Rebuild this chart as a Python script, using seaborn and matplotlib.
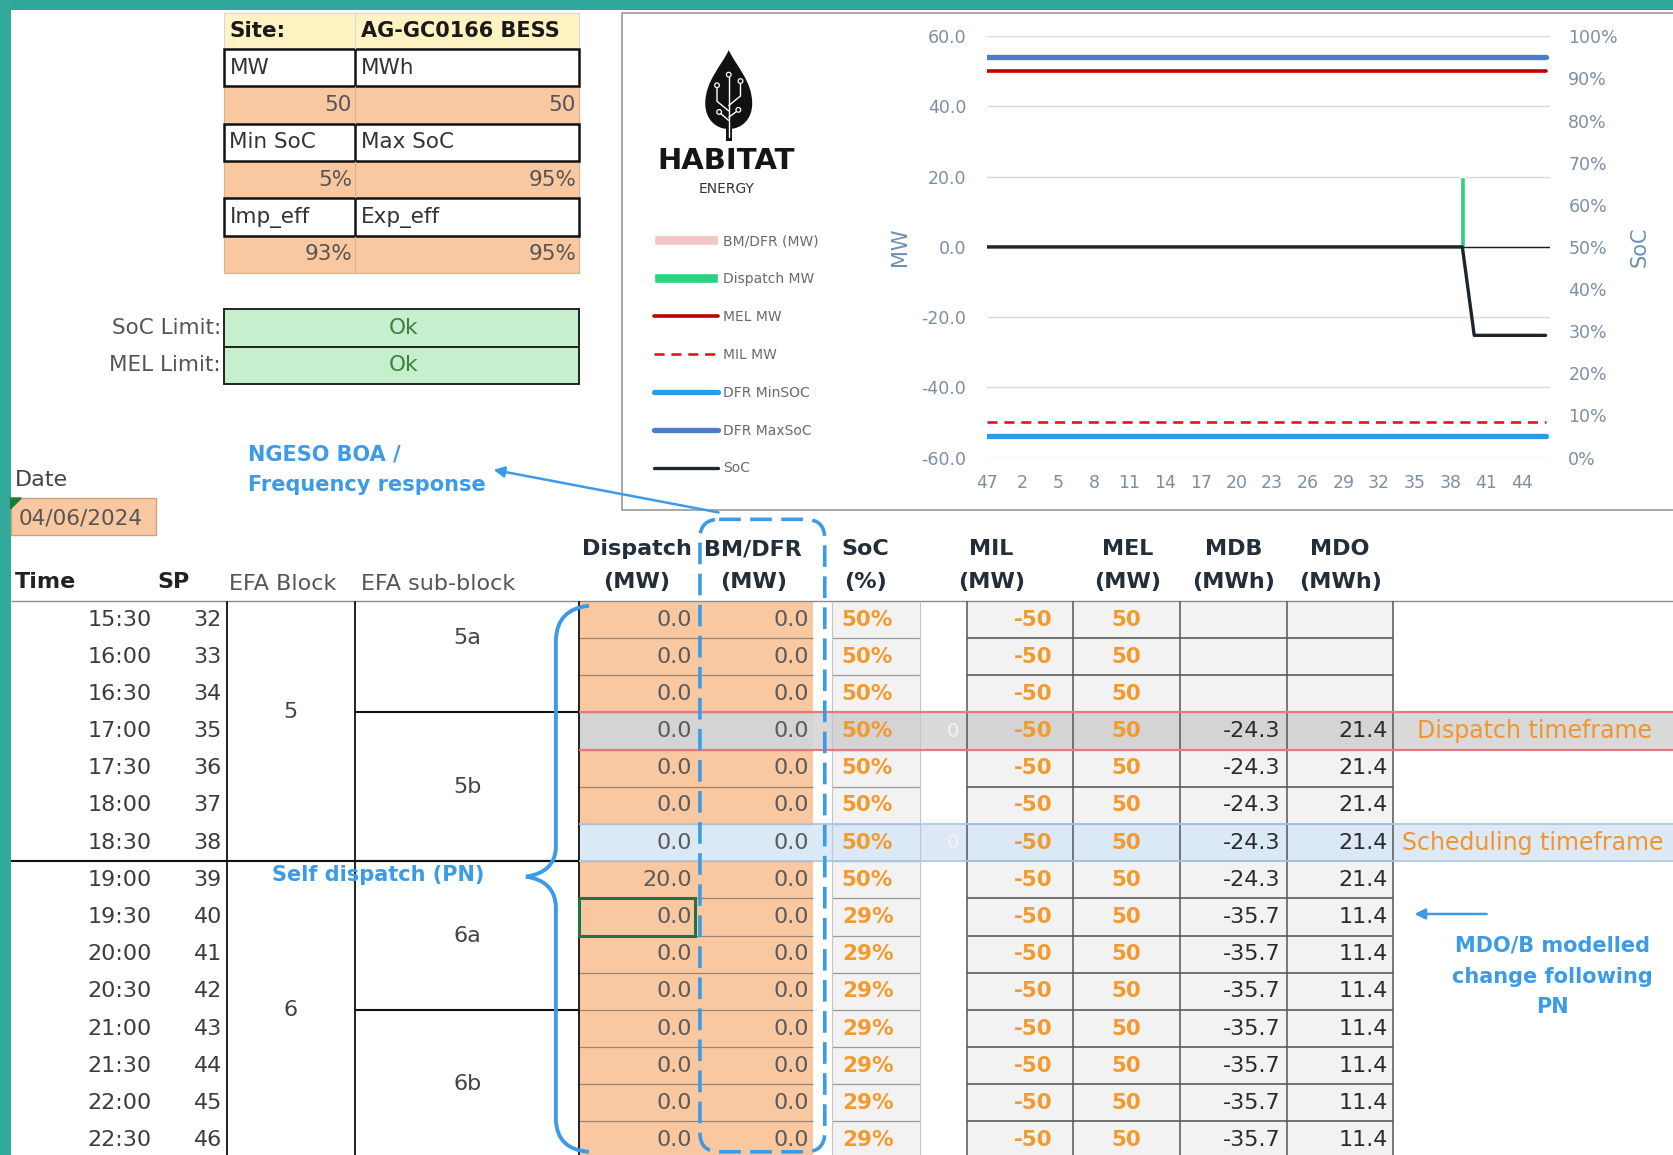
import numpy as np
import pandas as pd
import seaborn as sns
import matplotlib.pyplot as plt
from matplotlib import font_manager as fm
from matplotlib.patches import Rectangle, FancyBboxPatch, PathPatch, Polygon, Circle
from matplotlib.path import Path

# ---- chart series, x axis = settlement periods starting at SP47 of the day before
sp_axis = [47, 48, 1, 2, 3, 4, 5, 6, 7, 8, 9, 10, 11, 12, 13, 14, 15, 16, 17, 18,
           19, 20, 21, 22, 23, 24, 25, 26, 27, 28, 29, 30, 31, 32, 33, 34, 35, 36,
           37, 38, 39, 40, 41, 42, 43, 44, 45, 46]
bm_dfr_mw = [0] * 48
dispatch_mw = [0] * 40 + [20] + [0] * 7
mel_mw = [50] * 48
mil_mw = [-50] * 48
dfr_min_soc = [5] * 48
dfr_max_soc = [95] * 48
soc_pct = [50] * 41 + [29] * 7

# ---- site parameters
site_name = "AG-GC0166 BESS"
site_mw, site_mwh = 50, 50
min_soc, max_soc = 5, 95
imp_eff, exp_eff = 93, 95
report_date = "04/06/2024"

# ---- dispatch table
times = ["15:30", "16:00", "16:30", "17:00", "17:30", "18:00", "18:30", "19:00",
         "19:30", "20:00", "20:30", "21:00", "21:30", "22:00", "22:30"]
sp_rows = [32, 33, 34, 35, 36, 37, 38, 39, 40, 41, 42, 43, 44, 45, 46]
disp_rows = [0.0, 0.0, 0.0, 0.0, 0.0, 0.0, 0.0, 20.0, 0.0, 0.0, 0.0, 0.0, 0.0, 0.0, 0.0]
bm_rows = [0.0] * 15
soc_rows = [50, 50, 50, 50, 50, 50, 50, 50, 29, 29, 29, 29, 29, 29, 29]
mil_rows = [-50] * 15
mel_rows = [50] * 15
mdb_rows = [None, None, None, -24.3, -24.3, -24.3, -24.3, -24.3,
            -35.7, -35.7, -35.7, -35.7, -35.7, -35.7, -35.7]
mdo_rows = [None, None, None, 21.4, 21.4, 21.4, 21.4, 21.4,
            11.4, 11.4, 11.4, 11.4, 11.4, 11.4, 11.4]
efa_blocks = [("5", -1, 7), ("6", 7, 15)]
efa_sub = [("5a", -1, 3), ("5b", 3, 7), ("6a", 7, 11), ("6b", 11, 15)]
dispatch_row, schedule_row, selected_row = 3, 6, 8

sns.set_theme(style="white")
plt.rcParams["font.family"] = ["DejaVu Sans"]
names = {f.name for f in fm.fontManager.ttflist}
logo_font = "Liberation Sans Narrow" if "Liberation Sans Narrow" in names else "DejaVu Sans"

W, H = 1568, 1083  # drawing grid (figure is 1673x1155 px)
fig = plt.figure(figsize=(16.73, 11.55), dpi=100)
ax0 = fig.add_axes([0, 0, 1, 1])
ax0.set_xlim(0, W)
ax0.set_ylim(H, 0)
ax0.axis("off")

ORANGE = "#f9c8a0"
LGRAY = "#f2f2f2"
BLUE = "#3c9be8"
OTXT = "#f29a2e"


def rect(x0, y0, x1, y1, fc, ec="none", lw=0, z=1):
    ax0.add_patch(Rectangle((x0, y0), x1 - x0, y1 - y0, facecolor=fc,
                            edgecolor=ec, linewidth=lw, zorder=z))


def hline(y, x0, x1, color, lw=1, z=3):
    ax0.plot([x0, x1], [y, y], color=color, lw=lw, zorder=z, solid_capstyle="butt")


def vline(x, y0, y1, color, lw=1, z=3):
    ax0.plot([x, x], [y0, y1], color=color, lw=lw, zorder=z, solid_capstyle="butt")


def txt(x, y, s, ha="left", size=16, color="#333", weight="normal", **kw):
    ax0.text(x, y, s, ha=ha, va="center", fontsize=size, color=color,
             fontweight=weight, zorder=6, **kw)


# teal frame
rect(0, 0, W, 9, "#2fa89b", z=0)
rect(0, 0, 10, H, "#33a99c", z=0)

# ---- site info table
c0, c1, c2 = 210, 333, 543
rect(c0, 12, c2, 46, "#fff3c4", ec="#d8d8d8", lw=0.8)
vline(c1, 12, 46, "#d8d8d8", 0.8)
txt(215, 29, "Site:", size=15.5, weight="bold", color="#1a1a1a")
txt(338, 29, site_name, size=15, weight="bold", color="#1a1a1a")
pairs = [(("MW", "MWh"), (f"{site_mw}", f"{site_mwh}")),
         (("Min SoC", "Max SoC"), (f"{min_soc}%", f"{max_soc}%")),
         (("Imp_eff", "Exp_eff"), (f"{imp_eff}%", f"{exp_eff}%"))]
y = 46
for (la, lb), (va, vb) in pairs:
    rect(c0, y, c2, y + 35, "white", ec="#111", lw=1.8, z=2)
    vline(c1, y, y + 35, "#111", 1.8)
    txt(215, y + 17.5, la, size=15.5, color="#333")
    txt(338, y + 17.5, lb, size=15.5, color="#333")
    rect(c0, y + 35, c2, y + 70, ORANGE, ec="#d9b090", lw=0.8)
    vline(c1, y + 35, y + 70, "#d9b090", 0.8)
    txt(330, y + 52.5, va, ha="right", size=15.5, color="#555")
    txt(540, y + 52.5, vb, ha="right", size=15.5, color="#555")
    y += 70

# limits
for yy, lab in [(290, "SoC Limit:"), (325, "MEL Limit:")]:
    rect(c0, yy, c2, yy + 35, "#c6efce", ec="#222", lw=1.4, z=2)
    txt(207, yy + 17.5, lab, ha="right", size=15.5, color="#555")
    txt(378, yy + 17.5, "Ok", ha="center", size=15.5, color="#3f7f3f")

# date
txt(14, 450, "Date", size=16, color="#444")
rect(10, 467, 146, 502, ORANGE, ec="#c9a27f", lw=1)
ax0.add_patch(Polygon([(10, 467), (20, 467), (10, 477)], color="#1e7b34", zorder=4))
txt(17, 486, report_date, size=15.5, color="#555")

# ---- dispatch table
ROW0, RH = 563.5, 34.86


def top(i):
    return ROW0 + RH * i


def mid(i):
    return top(i) + RH / 2


val_cols = [(543, 653), (653, 762), (780, 862), (906, 1006), (1006, 1106),
            (1106, 1206), (1206, 1306)]
for i in range(15):
    if i == dispatch_row:
        rect(543, top(i), W, top(i + 1), "#d9d9d9")
    elif i == schedule_row:
        rect(543, top(i), W, top(i + 1), "#dde9f6")
    for k, (a, b) in enumerate(val_cols):
        if i == dispatch_row:
            fc = "#d4d4d4"
        elif i == schedule_row:
            fc = "#dbe8f5"
        else:
            fc = ORANGE if k < 2 else LGRAY
        rect(a, top(i), b, top(i + 1), fc)

for i in range(1, 15):
    hline(top(i), 543, 762, "#9c8474", 0.9)
    hline(top(i), 780, 862, "#9a9a9a", 0.9)
    hline(top(i), 906, 1306, "#4d4d4d", 1.1)
hline(top(0), 10, W, "#8c8c8c", 1.0)
for x in (906, 1006, 1106, 1206, 1306):
    vline(x, top(0), H, "#555", 1.1)
for x in (780, 862):
    vline(x, top(0), H, "#c4c4c4", 0.8)

# highlighted timeframes
hline(top(dispatch_row), 543, W, "#e8787c", 1.6, z=4)
hline(top(dispatch_row + 1), 543, W, "#e8787c", 1.6, z=4)
hline(top(schedule_row), 543, W, "#a9c8e6", 1.3, z=4)
hline(top(schedule_row + 1), 543, W, "#a9c8e6", 1.3, z=4)

# block structure
vline(213, top(0), H, "#111", 1.3)
vline(333, top(0), H, "#111", 1.3)
vline(543, top(0), H, "#111", 1.3)
hline(top(7), 10, 543, "#111", 1.5)
for lab, a, b in efa_sub:
    if a > 0:
        hline(top(a), 333, 543, "#111", 1.5)
    txt(438, (top(a) + top(b)) / 2, lab, ha="center", size=16, color="#444")
for lab, a, b in efa_blocks:
    txt(272, (top(a) + top(b)) / 2, lab, ha="center", size=16, color="#444")

# selected cell
ax0.add_patch(Rectangle((543, top(selected_row)), 108, RH, fill=False,
                        edgecolor="#217346", lw=2.2, zorder=5))

# header
hdr = "#222e3a"
for cx, l1, l2 in [(597, "Dispatch", "(MW)"), (706, "BM/DFR", "(MW)"), (811, "SoC", "(%)"),
                   (929, "MIL", "(MW)"), (1057, "MEL", "(MW)"), (1156, "MDB", "(MWh)"),
                   (1256, "MDO", "(MWh)")]:
    txt(cx, 515, l1, ha="center", size=16, weight="bold", color=hdr)
    txt(cx, 546, l2, ha="center", size=16, weight="bold", color=hdr)
txt(14, 546, "Time", size=16, weight="bold", color="#222")
txt(163, 546, "SP", ha="center", size=16, weight="bold", color="#222")
txt(215, 548, "EFA Block", size=16, color="#555")
txt(338, 548, "EFA sub-block", size=16, color="#555")

# row values
for i in range(15):
    ym = mid(i)
    txt(142, ym, times[i], ha="right", size=16, color="#3c3c3c")
    txt(208, ym, f"{sp_rows[i]}", ha="right", size=16, color="#3c3c3c")
    txt(649, ym, f"{disp_rows[i]:.1f}", ha="right", size=16, color="#5b5b5b")
    txt(758, ym, f"{bm_rows[i]:.1f}", ha="right", size=16, color="#5b5b5b")
    txt(789, ym, f"{soc_rows[i]}%", size=15.5, weight="bold", color=OTXT)
    txt(986, ym, f"{mil_rows[i]}", ha="right", size=15.5, weight="bold", color=OTXT)
    txt(1056, ym, f"{mel_rows[i]}", ha="center", size=15.5, weight="bold", color=OTXT)
    if mdb_rows[i] is not None:
        txt(1200, ym, f"{mdb_rows[i]:.1f}", ha="right", size=16, color="#2b2b2b")
        txt(1301, ym, f"{mdo_rows[i]:.1f}", ha="right", size=16, color="#2b2b2b")
    if i in (dispatch_row, schedule_row):
        txt(893, ym, "0", ha="center", size=14, color="#f4f4f4")

txt(1328, mid(dispatch_row), "Dispatch timeframe", size=17, color="#f0962c")
txt(1314, mid(schedule_row), "Scheduling timeframe", size=17, color="#f0962c")

# ---- annotations
brace = Path([(552, 568), (522, 571), (521, 600), (521, 795), (520, 818), (493, 822),
              (520, 826), (521, 850), (521, 1050), (522, 1078), (552, 1080)],
             [Path.MOVETO, Path.CURVE3, Path.CURVE3, Path.LINETO, Path.CURVE3, Path.CURVE3,
              Path.CURVE3, Path.CURVE3, Path.LINETO, Path.CURVE3, Path.CURVE3])
ax0.add_patch(PathPatch(brace, fill=False, edgecolor=BLUE, lw=2.8, zorder=7))
ax0.add_patch(FancyBboxPatch((656, 487), 117, 593, boxstyle="round,pad=0,rounding_size=18",
                             fill=False, edgecolor=BLUE, lw=2.6, linestyle=(0, (6, 2.6)),
                             zorder=7))
txt(232, 426, "NGESO BOA /", size=15, weight="bold", color=BLUE)
txt(232, 455, "Frequency response", size=15, weight="bold", color=BLUE)
ax0.annotate("", xy=(460, 440), xytext=(676, 481),
             arrowprops=dict(arrowstyle="-|>", color=BLUE, lw=1.8, mutation_scale=16),
             zorder=7)
txt(255, 820, "Self dispatch (PN)", size=15, weight="bold", color=BLUE)
ax0.annotate("", xy=(1323, 857), xytext=(1396, 857),
             arrowprops=dict(arrowstyle="-|>", color=BLUE, lw=1.8, mutation_scale=16),
             zorder=7)
for yy, s in [(887, "MDO/B modelled"), (916, "change following"), (944, "PN")]:
    txt(1455, yy, s, ha="center", size=15, weight="bold", color=BLUE)

# ---- chart panel
rect(583, 12, W + 2, 478, "white", ec="#9a9a9a", lw=1.2, z=1)

# logo
drop = Path([(683, 47), (690, 62), (705, 76), (705, 97), (705, 112), (695, 121), (683, 121),
             (671, 121), (661, 112), (661, 97), (661, 76), (676, 62), (683, 47)],
            [Path.MOVETO] + [Path.CURVE4] * 12)
ax0.add_patch(PathPatch(drop, facecolor="#111", edgecolor="none", zorder=4))
rect(680, 112, 686, 132, "#111", z=4)
for xs, ys in [([683, 683], [128, 72]), ([683, 672, 672], [104, 95, 82]),
               ([683, 694, 694], [99, 90, 78]), ([683, 675], [113, 106]),
               ([683, 691], [110, 104])]:
    ax0.plot(xs, ys, color="white", lw=1.0, zorder=5)
for cx, cy in [(683, 70), (672, 80), (694, 76), (674, 105), (692, 103)]:
    ax0.add_patch(Circle((cx, cy), 2.2, facecolor="#111", edgecolor="white", lw=0.9, zorder=6))
ax0.text(681, 151, "HABITAT", ha="center", va="center", fontsize=26 if logo_font != "DejaVu Sans" else 21,
         fontweight="bold", family=logo_font, color="#151515", zorder=6)
ax0.text(681, 177, "ENERGY", ha="center", va="center", fontsize=10, color="#333", zorder=6)

# plot area
ax = fig.add_axes([925 / W, 1 - 429 / H, 528 / W, 395 / H])
ax.patch.set_alpha(0)
idx = np.arange(len(sp_axis))
ax.bar(idx, bm_dfr_mw, width=0.4, color="#f4c5c5", label="BM/DFR (MW)", zorder=2)
ax.bar(idx, dispatch_mw, width=0.4, color="#2bd17e", label="Dispatch MW", zorder=2)
sns.lineplot(x=idx, y=mel_mw, ax=ax, color="#c00000", linewidth=2.6, label="MEL MW", zorder=3)
sns.lineplot(x=idx, y=mil_mw, ax=ax, color="#e5141b", linewidth=1.9,
             linestyle=(0, (3.8, 2.6)), label="MIL MW", zorder=3)
ax.axhline(0, color="#1b1b1b", lw=1.0, zorder=2)
ax.set_xlim(0, 47.4)
ax.set_ylim(-60, 60)
ax.set_yticks(range(-60, 61, 20))
ax.set_yticklabels([f"{v:.1f}" for v in range(-60, 61, 20)])
ax.set_xticks(idx[::3])
ax.set_xticklabels([str(s) for s in sp_axis[::3]])
ax.grid(axis="y", color="#d9d9d9", lw=1)
ax.grid(axis="x", visible=False)
ax.set_axisbelow(True)
ax.tick_params(axis="y", length=0, labelsize=12.5, colors="#7d8ea3", pad=15)
ax.tick_params(axis="x", length=0, labelsize=12.5, colors="#7d8ea3", pad=12)
ax.set_xlabel("")
ax.set_ylabel("MW", fontsize=15, color="#6c8fb4", va="center")
ax.yaxis.set_label_coords(-0.155, 0.5)

ax2 = ax.twinx()
sns.lineplot(x=idx, y=dfr_min_soc, ax=ax2, color="#2c9ae4", linewidth=3.8, label="DFR MinSOC")
sns.lineplot(x=idx, y=dfr_max_soc, ax=ax2, color="#4d7cc4", linewidth=3.8, label="DFR MaxSoC")
sns.lineplot(x=idx, y=soc_pct, ax=ax2, color="#1b2530", linewidth=2.4, label="SoC")
ax2.set_ylim(0, 100)
ax2.set_yticks(range(0, 101, 10))
ax2.set_yticklabels([f"{v}%" for v in range(0, 101, 10)])
ax2.grid(False)
ax2.tick_params(axis="y", length=0, labelsize=12.5, colors="#7d8ea3", pad=13)
ax2.set_ylabel("SoC", fontsize=15, color="#6c8fb4", rotation=90, va="center")
ax2.yaxis.set_label_coords(1.159, 0.5)
for a in (ax, ax2):
    for sp in a.spines.values():
        sp.set_visible(False)

h1, l1 = ax.get_legend_handles_labels()
h2, l2 = ax2.get_legend_handles_labels()
for a in (ax, ax2):
    if a.get_legend() is not None:
        a.get_legend().remove()
lookup = dict(zip(l1 + l2, h1 + h2))
order = ["BM/DFR (MW)", "Dispatch MW", "MEL MW", "MIL MW", "DFR MinSOC", "DFR MaxSoC", "SoC"]
leg = fig.legend([lookup[k] for k in order], order, loc="upper left",
                 bbox_to_anchor=(613 / W, 1 - 219.5 / H), frameon=False, fontsize=10,
                 borderpad=0, borderaxespad=0, handlelength=4.6, handletextpad=0.4,
                 labelspacing=1.72)
for t in leg.get_texts():
    t.set_color("#6a6a6a")

fig.savefig("out.png", dpi=100)
